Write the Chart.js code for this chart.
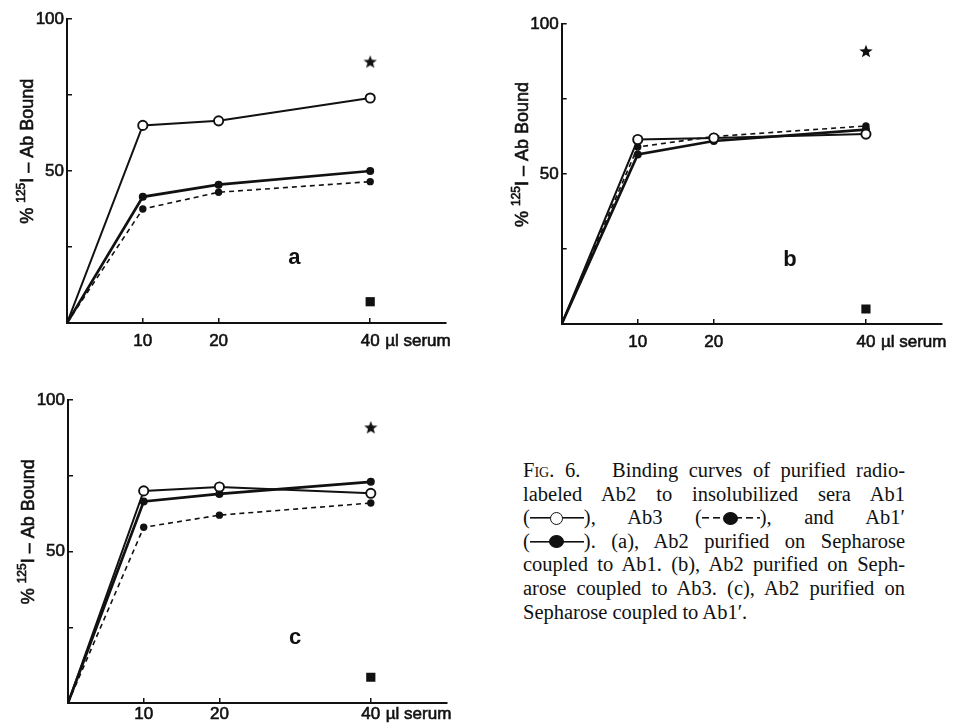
<!DOCTYPE html>
<html>
<head>
    <title>Fig. 6 Binding curves</title>
    <style>
        body {
            margin: 0;
            background: #fff;
            width: 957px;
            height: 723px;
            position: relative;
            overflow: hidden;
        }
        canvas {
            position: absolute;
        }
        #chartA { left: 0; top: 0; }
        #chartB { left: 479px; top: 0; }
        #chartC { left: 0; top: 370px; }
        #caption {
            position: absolute;
            left: 523px;
            top: 459px;
            width: 382px;
            font-family: 'Liberation Serif', serif;
            font-size: 20.5px;
            line-height: 23.6px;
            color: #111;
        }
        #caption span.ln {
            display: block;
            text-align: justify;
            text-align-last: justify;
        }
        #caption span.last {
            display: block;
            text-align: left;
        }
        .sc { font-variant: small-caps; }
        /* legend keys drawn inline in the caption */
        .lg {
            display: inline-block;
            position: relative;
            width: 54px;
            height: 14px;
            vertical-align: -1px;
            background: linear-gradient(#111, #111) center / 100% 1.6px no-repeat;
        }
        .lg.dash {
            width: 58px;
            background: repeating-linear-gradient(90deg, #111 0 7px, transparent 7px 11px) center / 100% 1.6px no-repeat;
        }
        .lg::after {
            content: '';
            position: absolute;
            left: 50%;
            top: 50%;
            width: 13px;
            height: 13px;
            margin: -6.5px 0 0 -6.5px;
            border-radius: 50%;
            box-sizing: border-box;
            border: 1.6px solid #111;
            background: #fff;
        }
        .lg.fill::after {
            width: 15px;
            margin-left: -7.5px;
            background: #111;
        }
    </style>
    <script src="https://cdn.jsdelivr.net/npm/chart.js"></script>
</head>
<body>
    <canvas id="chartA" width="478" height="360"></canvas>
    <canvas id="chartB" width="478" height="360"></canvas>
    <canvas id="chartC" width="478" height="353"></canvas>
    <div id="caption">
        <span class="ln"><span class="sc">Fig.</span> 6.&nbsp;&nbsp; Binding curves of purified radio-</span>
        <span class="ln">labeled Ab2 to insolubilized sera Ab1</span>
        <span class="ln">(<span class="lg"></span>), Ab3 (<span class="lg dash fill"></span>), and Ab1′</span>
        <span class="ln">(<span class="lg fill"></span>). (a), Ab2 purified on Sepharose</span>
        <span class="ln">coupled to Ab1. (b), Ab2 purified on Seph-</span>
        <span class="ln">arose coupled to Ab3. (c), Ab2 purified on</span>
        <span class="last">Sepharose coupled to Ab1′.</span>
    </div>
    <script>
        // x values (µl serum) shared by all curves
        const doses = [0, 10, 20, 40];
        const xTicks = [10, 20, 40];
        const yTicks = [25, 50, 75, 100];
        const yTickLabels = ['', '50', '', '100'];

        // panel a
        const aAb1 = [0, 65, 66.5, 74];
        const aAb3 = [0, 37.5, 43, 46.5];
        const aAb1p = [0, 41.5, 45.5, 50];
        const aStar = 86;
        const aSquare = 7;

        // panel b
        const bAb1 = [0, 61.5, 62, 63.3];
        const bAb3 = [0, 59, 62.5, 66];
        const bAb1p = [0, 56.5, 61, 64.8];
        const bStar = 91;
        const bSquare = 5;

        // panel c
        const cAb1 = [0, 70, 71.3, 69.2];
        const cAb3 = [0, 58, 62, 66];
        const cAb1p = [0, 66.5, 69, 73];
        const cStar = 91;
        const cSquare = 8.5;

        const markerDose = 40;
        const ink = '#111';
        const sans = "'Liberation Sans', Arial, sans-serif";

        function pts(values) {
            return doses.map((d, i) => ({ x: d, y: values[i] }));
        }

        function makeStar(size) {
            const c = document.createElement('canvas');
            c.width = size;
            c.height = size;
            const g = c.getContext('2d');
            g.fillStyle = ink;
            g.beginPath();
            for (let i = 0; i < 10; i++) {
                const r = i % 2 ? size * 0.21 : size / 2;
                const a = -Math.PI / 2 + i * Math.PI / 5;
                g.lineTo(size / 2 + r * Math.cos(a), size / 2 + r * Math.sin(a) + size * 0.05);
            }
            g.closePath();
            g.fill();
            return c;
        }
        const starImg = makeStar(14);

        function inkText(ctx, s, x, y, stroke) {
            ctx.fillText(s, x, y);
            if (stroke) ctx.strokeText(s, x, y);
        }

        // letter, axis title and unit label
        const panelText = {
            id: 'panelText',
            afterDraw(chart, args, opts) {
                const ctx = chart.ctx;
                const xs = chart.scales.x, ys = chart.scales.y;
                const area = chart.chartArea;
                ctx.save();
                ctx.fillStyle = ink;
                ctx.strokeStyle = ink;
                ctx.lineWidth = 0.6;

                ctx.font = 'bold 22px ' + sans;
                ctx.textAlign = 'center';
                ctx.textBaseline = 'middle';
                inkText(ctx, opts.letter, xs.getPixelForValue(30), ys.getPixelForValue(21.5), false);

                ctx.font = '17px ' + sans;
                ctx.textAlign = 'left';
                inkText(ctx, 'µl serum', xs.getPixelForValue(markerDose) + 15, area.bottom + opts.unitDy, true);

                // rotated y title with superscript 125
                const parts = [['% ', 18, 0], ['125', 12, -8], ['I – Ab Bound', 18, 0]];
                let total = 0;
                parts.forEach(p => {
                    ctx.font = p[1] + 'px ' + sans;
                    total += ctx.measureText(p[0]).width;
                });
                ctx.translate(area.left - 34, ys.getPixelForValue(56.5));
                ctx.rotate(-Math.PI / 2);
                ctx.textBaseline = 'alphabetic';
                let x = -total / 2;
                parts.forEach(p => {
                    ctx.font = p[1] + 'px ' + sans;
                    inkText(ctx, p[0], x, p[2], true);
                    x += ctx.measureText(p[0]).width;
                });
                ctx.restore();
            }
        };

        function drawPanel(id, letter, ab1, ab3, ab1p, star, square, pad, xHeight, tickPad) {
            const hideFirst = r => c => c.dataIndex === 0 ? 0 : r;
            const tickFont = { family: sans, size: 17 };
            new Chart(document.getElementById(id), {
                type: 'line',
                data: {
                    datasets: [
                        {
                            label: 'Ab1',
                            data: pts(ab1),
                            borderColor: ink,
                            borderWidth: 2,
                            pointStyle: 'circle',
                            pointRadius: hideFirst(4.6),
                            pointBackgroundColor: '#fff',
                            pointBorderColor: ink,
                            pointBorderWidth: 1.9
                        },
                        {
                            label: "Ab1'",
                            data: pts(ab1p),
                            borderColor: ink,
                            borderWidth: 2.7,
                            pointRadius: hideFirst(4),
                            pointBackgroundColor: ink,
                            pointBorderColor: ink,
                            pointBorderWidth: 0
                        },
                        {
                            label: 'Ab3',
                            data: pts(ab3),
                            borderColor: ink,
                            borderWidth: 1.6,
                            borderDash: [5, 4],
                            pointRadius: hideFirst(3.7),
                            pointBackgroundColor: ink,
                            pointBorderColor: ink,
                            pointBorderWidth: 0
                        },
                        {
                            label: 'star',
                            data: [{ x: markerDose, y: star }],
                            showLine: false,
                            pointStyle: starImg,
                            pointRadius: 7
                        },
                        {
                            label: 'square',
                            data: [{ x: markerDose, y: square }],
                            showLine: false,
                            pointStyle: 'rect',
                            pointRadius: 6.5,
                            pointBackgroundColor: ink,
                            pointBorderColor: ink,
                            pointBorderWidth: 0
                        }
                    ]
                },
                options: {
                    responsive: false,
                    animation: false,
                    layout: { padding: pad },
                    elements: { line: { tension: 0, fill: false } },
                    plugins: {
                        legend: { display: false },
                        tooltip: { enabled: false },
                        panelText: { letter: letter, unitDy: tickPad + 5.2 }
                    },
                    scales: {
                        x: {
                            type: 'linear',
                            min: 0,
                            max: 50,
                            afterBuildTicks: s => { s.ticks = xTicks.map(v => ({ value: v })); },
                            afterFit: s => { s.height = xHeight; },
                            ticks: {
                                padding: tickPad,
                                color: ink,
                                font: tickFont,
                                textStrokeColor: ink,
                                textStrokeWidth: 0.6
                            },
                            grid: { drawOnChartArea: false, tickLength: -5, color: ink, lineWidth: 1.5 },
                            border: { color: ink, width: 2 }
                        },
                        y: {
                            min: 0,
                            max: 100,
                            afterBuildTicks: s => { s.ticks = yTicks.map(v => ({ value: v })); },
                            afterFit: s => { s.width = 60; },
                            ticks: {
                                padding: 8,
                                color: ink,
                                font: tickFont,
                                textStrokeColor: ink,
                                textStrokeWidth: 0.6,
                                callback: v => yTickLabels[yTicks.indexOf(v)]
                            },
                            grid: { drawOnChartArea: false, tickLength: -5, color: ink, lineWidth: 1.5 },
                            border: { color: ink, width: 2 }
                        }
                    }
                },
                plugins: [panelText]
            });
        }

        drawPanel('chartA', 'a', aAb1, aAb3, aAb1p, aStar, aSquare,
            { left: 7, top: 19, right: 32, bottom: 7 }, 30, 13.5);
        drawPanel('chartB', 'b', bAb1, bAb3, bAb1p, bStar, bSquare,
            { left: 22.7, top: 24, right: 15, bottom: 6 }, 30, 13.5);
        drawPanel('chartC', 'c', cAb1, cAb3, cAb1p, cStar, cSquare,
            { left: 8, top: 30, right: 31.5, bottom: 2 }, 18, 6);
    </script>
</body>
</html>
